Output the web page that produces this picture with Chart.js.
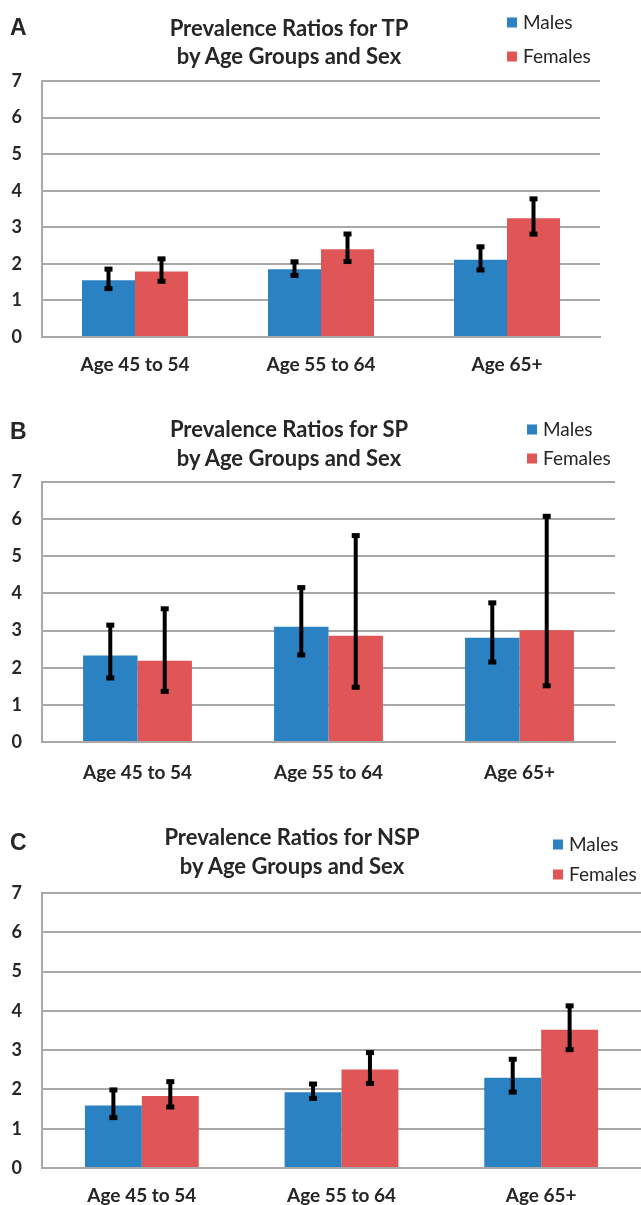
<!DOCTYPE html>
<html>
<head>
<meta charset="utf-8">
<script src="https://cdn.jsdelivr.net/npm/chart.js@4.4.1/dist/chart.umd.min.js"></script>
<style>
  html, body { margin:0; padding:0; background:#fff; }
  body { width:641px; height:1205px; position:relative; overflow:hidden; font-family:Lato, "Open Sans", sans-serif; }
  .cv { position:absolute; left:0; }
  .lbl { position:absolute; white-space:nowrap; color:#262626; transform:translateY(-50%); line-height:1; }
  .letter { font-family:"Liberation Sans", Arial, sans-serif; font-weight:bold; font-size:23px; }
  .title { font-weight:bold; font-size:22px; transform:translate(-50%,-50%); text-align:center; }
  .leg { font-size:19px; }
  .sw { display:inline-block; width:10px; height:10px; margin-right:6px; vertical-align:1px; }
</style>
</head>
<body>
<script>
// ---------- data ----------
const categories = ['Age 45 to 54', 'Age 55 to 64', 'Age 65+'];
const yTickValues = [0, 1, 2, 3, 4, 5, 6, 7];
const seriesNames = ['Males', 'Females'];

const tpMales = [1.55, 1.85, 2.11];
const tpFemales = [1.79, 2.40, 3.25];
const tpMalesLow = [1.31, 1.67, 1.82];
const tpMalesHigh = [1.87, 2.07, 2.48];
const tpFemalesLow = [1.51, 2.05, 2.80];
const tpFemalesHigh = [2.15, 2.83, 3.79];

const spMales = [2.33, 3.10, 2.81];
const spFemales = [2.19, 2.86, 3.01];
const spMalesLow = [1.71, 2.33, 2.14];
const spMalesHigh = [3.16, 4.17, 3.76];
const spFemalesLow = [1.35, 1.46, 1.50];
const spFemalesHigh = [3.60, 5.57, 6.09];

const nspMales = [1.59, 1.93, 2.30];
const nspFemales = [1.83, 2.51, 3.52];
const nspMalesLow = [1.27, 1.76, 1.92];
const nspMalesHigh = [2.00, 2.15, 2.78];
const nspFemalesLow = [1.54, 2.14, 3.00];
const nspFemalesHigh = [2.21, 2.95, 4.14];

// ---------- styling / layout ----------
const BLUE = '#2a82c2';
const RED = '#e05656';
const GRID = '#a8a8a8';
const TEXT = '#262626';

const panels = [
  { letter:'A', title:['Prevalence Ratios for TP','by Age Groups and Sex'],
    males:tpMales, females:tpFemales, mLow:tpMalesLow, mHigh:tpMalesHigh, fLow:tpFemalesLow, fHigh:tpFemalesHigh,
    top:0, height:390, chartTop:81, chartBottom:337, right:600, xPad:8,
    letterY:27, titleX:289, titleY:[28,56], legX:507, legY:[21,55] },
  { letter:'B', title:['Prevalence Ratios for SP','by Age Groups and Sex'],
    males:spMales, females:spFemales, mLow:spMalesLow, mHigh:spMalesHigh, fLow:spFemalesLow, fHigh:spFemalesHigh,
    top:395, height:400, chartTop:482, chartBottom:742, right:615, xPad:11,
    letterY:431, titleX:289, titleY:[429,458], legX:527, legY:[428,457] },
  { letter:'C', title:['Prevalence Ratios for NSP','by Age Groups and Sex'],
    males:nspMales, females:nspFemales, mLow:nspMalesLow, mHigh:nspMalesHigh, fLow:nspFemalesLow, fHigh:nspFemalesHigh,
    top:800, height:405, chartTop:893, chartBottom:1168, right:641, xPad:8,
    letterY:842, titleX:292, titleY:[837,866], legX:553, legY:[843,873] }
];

const errorBars = {
  id:'errorBars',
  afterDatasetsDraw(chart) {
    const ctx = chart.ctx, y = chart.scales.y;
    chart.data.datasets.forEach((ds, di) => {
      const meta = chart.getDatasetMeta(di);
      meta.data.forEach((bar, i) => {
        const yl = y.getPixelForValue(ds.errLow[i]);
        const yh = y.getPixelForValue(ds.errHigh[i]);
        ctx.save();
        ctx.strokeStyle = '#000';
        ctx.fillStyle = '#000';
        ctx.lineWidth = 4;
        ctx.beginPath();
        ctx.moveTo(bar.x, yl); ctx.lineTo(bar.x, yh);
        ctx.stroke();
        ctx.fillRect(bar.x - 4, yh - 2, 8, 5);
        ctx.fillRect(bar.x - 4, yl - 3, 8, 5);
        ctx.restore();
      });
    });
  }
};

panels.forEach(p => {
  const c = document.createElement('canvas');
  c.className = 'cv';
  c.style.top = p.top + 'px';
  c.width = 641; c.height = p.height;
  c.style.width = '641px'; c.style.height = p.height + 'px';
  document.body.appendChild(c);

  const xAxisH = 44;
  new Chart(c, {
    type:'bar',
    data:{
      labels:categories,
      datasets:[
        { label:seriesNames[0], data:p.males, backgroundColor:BLUE, errLow:p.mLow, errHigh:p.mHigh },
        { label:seriesNames[1], data:p.females, backgroundColor:RED, errLow:p.fLow, errHigh:p.fHigh }
      ]
    },
    options:{
      responsive:false, animation:false,
      devicePixelRatio:1,
      layout:{ padding:{ top:p.chartTop - p.top, bottom:p.height - (p.chartBottom - p.top) - xAxisH, left:0, right:641 - p.right } },
      plugins:{ legend:{ display:false }, title:{ display:false }, tooltip:{ enabled:false } },
      datasets:{ bar:{ categoryPercentage:0.57, barPercentage:1.0 } },
      scales:{
        x:{
          grid:{ display:false },
          border:{ display:true, color:GRID, width:2 },
          ticks:{ color:TEXT, font:{ family:'Lato', weight:'bold', size:19 }, padding:p.xPad },
          afterFit(s){ s.height = xAxisH; }
        },
        y:{
          min:0, max:7,
          afterBuildTicks(s){ s.ticks = yTickValues.map(v => ({ value:v })); },
          grid:{ color:GRID, lineWidth:2, drawTicks:false },
          border:{ display:true, color:GRID, width:2 },
          ticks:{ color:TEXT, font:{ family:'Lato', weight:'bold', size:18 }, padding:20 },
          afterFit(s){ s.width = 42; }
        }
      }
    },
    plugins:[errorBars]
  });

  const L = document.createElement('div');
  L.className = 'lbl letter'; L.textContent = p.letter;
  L.style.left = '10px'; L.style.top = p.letterY + 'px';
  document.body.appendChild(L);

  p.title.forEach((t, i) => {
    const d = document.createElement('div');
    d.className = 'lbl title'; d.textContent = t;
    d.style.left = p.titleX + 'px'; d.style.top = p.titleY[i] + 'px';
    document.body.appendChild(d);
  });

  [[seriesNames[0], BLUE], [seriesNames[1], RED]].forEach((s, i) => {
    const d = document.createElement('div');
    d.className = 'lbl leg';
    d.style.left = p.legX + 'px'; d.style.top = p.legY[i] + 'px';
    const sw = document.createElement('span');
    sw.className = 'sw'; sw.style.background = s[1];
    d.appendChild(sw);
    d.appendChild(document.createTextNode(s[0]));
    document.body.appendChild(d);
  });
});
</script>
</body>
</html>
